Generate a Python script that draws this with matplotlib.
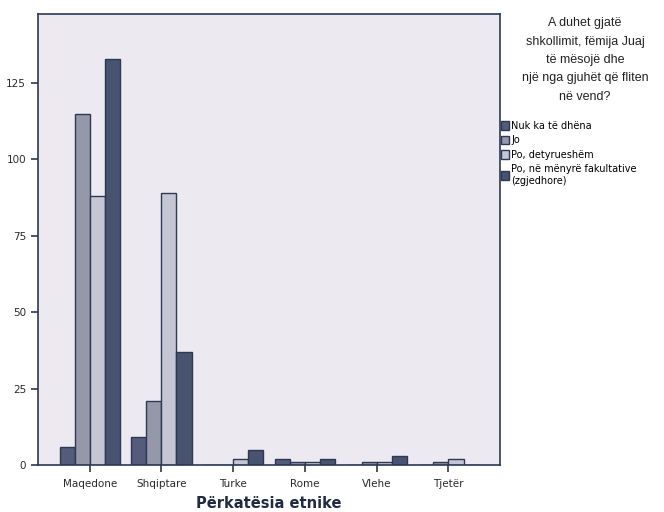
import numpy as np
import matplotlib
matplotlib.use('Agg')
import matplotlib.pyplot as plt
from matplotlib.patches import Patch

# Data
categories = ['Maqedone', 'Shqiptare', 'Turke', 'Rome', 'Vlehe', 'Tjetër']
nuk_ka = [6, 9, 0, 2, 0, 0]
jo = [115, 21, 0, 1, 1, 1]
po_detyrueshem = [88, 89, 2, 1, 1, 2]
po_fakultative = [133, 37, 5, 2, 3, 0]

series = [nuk_ka, jo, po_detyrueshem, po_fakultative]
labels = ['Nuk ka të dhëna', 'Jo', 'Po, detyrueshëm',
          'Po, në mënyrë fakultative\n(zgjedhore)']
colors = ['#535d7b', '#9598a9', '#c5c6d3', '#48546f']
edge = '#2c3854'

fig = plt.figure(figsize=(6.64, 5.12), dpi=100)
ax = fig.add_axes([0.0572, 0.0918, 0.696, 0.881])
ax.set_facecolor('#eceaf0')

x = np.arange(len(categories))
w = 0.21
for i, (vals, c) in enumerate(zip(series, colors)):
    ax.bar(x + (i - 1.5) * w, vals, w, color=c, edgecolor=edge, linewidth=1)

ax.set_xlim(-0.72, 5.72)
ax.set_ylim(0, 147.6)
ax.set_yticks([0, 25, 50, 75, 100, 125])
ax.set_xticks(x)
ax.set_xticklabels(categories)
ax.tick_params(axis='both', colors=edge, labelcolor='#2a2a2a', labelsize=7.5,
               direction='out', length=5, width=1.2)
ax.tick_params(axis='x', pad=5)
for s in ax.spines.values():
    s.set_color(edge)
    s.set_linewidth(1.2)
ax.set_xlabel('Përkatësia etnike', fontsize=10.5, fontweight='bold', color='#1f2b44',
              labelpad=5)

# legend title
fig.text(0.881, 0.966,
         'A duhet gjatë\nshkollimit, fëmija Juaj\ntë mësojë dhe\nnjë nga gjuhët që fliten\nnë vend?',
         ha='center', va='top', fontsize=9, linespacing=1.7,
         family=['Liberation Sans Narrow', 'Liberation Sans', 'DejaVu Sans'],
         color='#222222')

handles = [Patch(facecolor=c, edgecolor=edge, linewidth=1) for c in colors]
leg = fig.legend(handles, labels, loc='upper left', bbox_to_anchor=(0.754, 0.764),
                 frameon=False, fontsize=7, handlelength=0.85, handleheight=1.0,
                 handletextpad=0.25, labelspacing=0.45, borderaxespad=0, borderpad=0)

fig.savefig('out.png', dpi=100, facecolor='white')
